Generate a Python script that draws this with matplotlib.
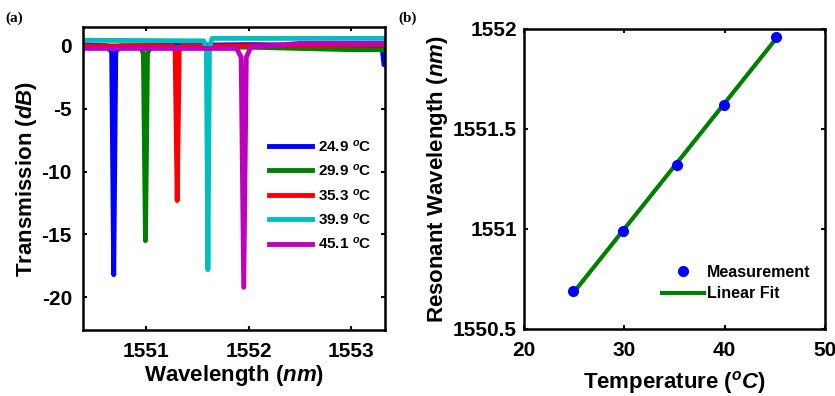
import matplotlib.pyplot as plt
import numpy as np

plt.rcParams['font.family'] = ['Liberation Sans', 'DejaVu Sans']
plt.rcParams['font.weight'] = 'bold'
plt.rcParams['axes.unicode_minus'] = False
plt.rcParams['mathtext.fontset'] = 'custom'
plt.rcParams['mathtext.rm'] = 'Liberation Sans:bold'
plt.rcParams['mathtext.it'] = 'Liberation Sans:italic:bold'
plt.rcParams['mathtext.bf'] = 'Liberation Sans:bold'

# panel (a): transmission spectra (wavelength nm, transmission dB)
temps = ['24.9', '29.9', '35.3', '39.9', '45.1']
colors = ['#0000ff', '#008000', '#ff0000', '#00bfbf', '#bf00bf']

wl_blue = [1550.38, 1550.62, 1550.66, 1550.68, 1550.70, 1550.74, 1552.0, 1553.30, 1553.32, 1553.33]
tr_blue = [0.1, 0.0, -0.5, -18.2, -0.5, 0.0, 0.1, 0.0, -1.5, -1.5]
wl_green = [1550.38, 1550.94, 1550.97, 1550.99, 1551.01, 1551.04, 1552.0, 1553.0, 1553.33]
tr_green = [-0.1, -0.1, -0.6, -15.5, -0.6, -0.1, -0.1, -0.3, -0.3]
wl_red = [1550.38, 1551.26, 1551.28, 1551.30, 1551.32, 1551.34, 1552.0, 1553.33]
tr_red = [0.0, 0.0, -0.4, -12.3, -0.4, 0.0, 0.0, 0.1]
wl_cyan = [1550.38, 1551.56, 1551.585, 1551.60, 1551.615, 1551.64, 1552.0, 1553.33]
tr_cyan = [0.45, 0.4, -0.2, -17.8, -0.2, 0.6, 0.6, 0.6]
wl_mag = [1550.38, 1551.88, 1551.925, 1551.95, 1551.975, 1552.02, 1552.5, 1553.33]
tr_mag = [-0.2, -0.2, -0.9, -19.2, -0.9, -0.1, 0.2, 0.2]

spectra = [(wl_blue, tr_blue), (wl_green, tr_green), (wl_red, tr_red),
           (wl_cyan, tr_cyan), (wl_mag, tr_mag)]

# panel (b): resonance vs temperature
temp_c = [24.9, 29.9, 35.3, 39.9, 45.1]
res_nm = [1550.69, 1550.99, 1551.32, 1551.62, 1551.96]

fig = plt.figure(figsize=(8.35, 3.96), dpi=100)
ax1 = fig.add_axes([0.0994, 0.1667, 0.3617, 0.765])
ax2 = fig.add_axes([0.6275, 0.1692, 0.3605, 0.7576])

for (wl, tr), t, c in zip(spectra, temps, colors):
    ax1.plot(wl, tr, color=c, lw=3.5, label=t + r' $^{o}$C')

ax1.set_xlim(1550.38, 1553.33)
ax1.set_ylim(-22.6, 1.5)
ax1.set_xticks([1551, 1552, 1553])
ax1.set_yticks([0, -5, -10, -15, -20])
ax1.set_xlabel(r'Wavelength ($nm$)', fontsize=16, fontweight='bold', labelpad=1)
ax1.set_ylabel(r'Transmission ($dB$)', fontsize=16, fontweight='bold', labelpad=2)
ax1.legend(loc='center right', bbox_to_anchor=(1.0, 0.445), frameon=False,
           fontsize=11, handlelength=2.8, labelspacing=0.55, handletextpad=0.4)

fit = np.polyfit(temp_c, res_nm, 1)
fit_y = np.polyval(fit, [temp_c[0], temp_c[-1]])
ax2.plot([temp_c[0], temp_c[-1]], fit_y, color='#008000', lw=3, label='Linear Fit', zorder=2)
ax2.plot(temp_c, res_nm, 'o', color='#0000ff', ms=7, label='Measurement', zorder=3)
ax2.set_xlim(20, 50)
ax2.set_ylim(1550.5, 1552)
ax2.set_xticks([20, 30, 40, 50])
ax2.set_yticks([1550.5, 1551, 1551.5, 1552])
ax2.set_yticklabels(['1550.5', '1551', '1551.5', '1552'])
ax2.set_xlabel(r'Temperature ($^{o}C$)', fontsize=16, fontweight='bold', labelpad=6)
ax2.set_ylabel(r'Resonant Wavelength ($nm$)', fontsize=16, fontweight='bold', labelpad=2)
h, l = ax2.get_legend_handles_labels()
ax2.legend(h[::-1], l[::-1], loc='lower right', bbox_to_anchor=(1.0, 0.045), frameon=False,
           fontsize=11.5, handlelength=2.6, labelspacing=0.4, handletextpad=0.2)

for ax in (ax1, ax2):
    ax.tick_params(direction='in', top=True, right=True, labelsize=15, length=3, width=1.5)
    ax.tick_params(axis='x', pad=9)
    for s in ax.spines.values():
        s.set_linewidth(1.8)
    for lab in ax.get_xticklabels() + ax.get_yticklabels():
        lab.set_fontweight('bold')
ax1.tick_params(axis='y', pad=8)
ax2.tick_params(axis='y', pad=5)

fig.text(0.006, 0.945, '(a)', fontsize=11, fontweight='bold', family='Liberation Serif')
fig.text(0.477, 0.945, '(b)', fontsize=11, fontweight='bold', family='Liberation Serif')

fig.savefig('out.png', dpi=100)
